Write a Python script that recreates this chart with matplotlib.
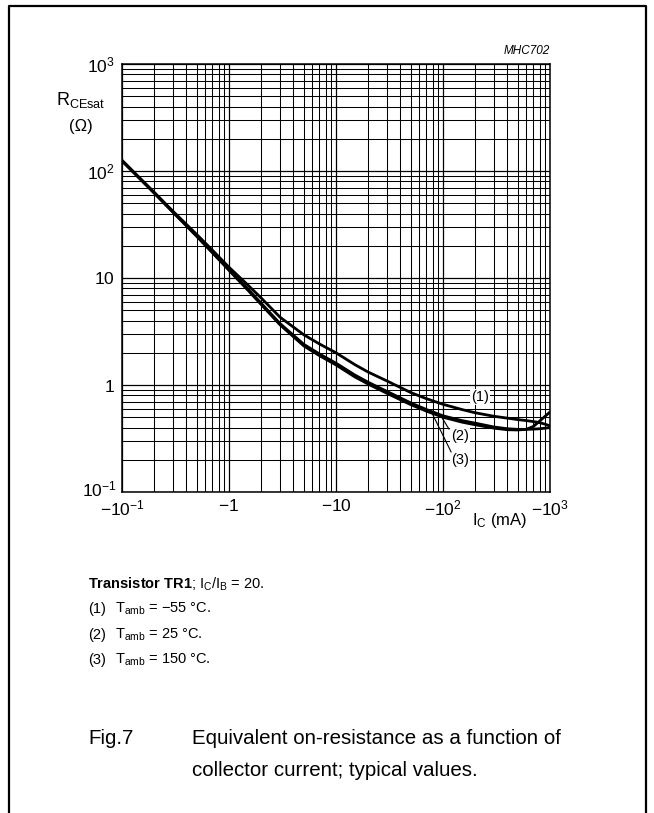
import numpy as np
import matplotlib
matplotlib.use("Agg")
import matplotlib.pyplot as plt
from matplotlib.lines import Line2D
from matplotlib.ticker import LogLocator, NullFormatter, FixedLocator

plt.rcParams['font.family'] = ['Liberation Sans', 'DejaVu Sans']
plt.rcParams['mathtext.fontset'] = 'custom'
plt.rcParams['mathtext.rm'] = 'Liberation Sans'
plt.rcParams['mathtext.it'] = 'Liberation Sans:italic'
plt.rcParams['mathtext.bf'] = 'Liberation Sans:bold'

# collector current magnitude (mA); axis shows negative values
ic_ma = [0.1, 0.2, 0.3, 0.5, 0.7, 1, 1.5, 2, 3, 5, 7, 10, 15, 20, 30, 50, 70,
         100, 150, 200, 300, 400, 500, 600, 700, 800, 900, 1000]
r_m55 = [125, 63, 42, 25.5, 18.2, 12.6, 8.6, 6.5, 4.3, 2.95, 2.42, 2.0, 1.55, 1.32,
         1.09, 0.85, 0.745, 0.66, 0.59, 0.55, 0.51, 0.49, 0.475, 0.465, 0.455,
         0.445, 0.43, 0.415]
r_25 = [124, 62, 41, 24.6, 17.4, 12.0, 7.9, 5.8, 3.75, 2.4, 1.95, 1.6, 1.24, 1.06,
        0.87, 0.68, 0.59, 0.515, 0.465, 0.44, 0.405, 0.39, 0.385, 0.385, 0.387,
        0.39, 0.395, 0.40]
r_150 = [126, 63, 41.5, 24.5, 17.2, 11.8, 7.7, 5.65, 3.65, 2.32, 1.88, 1.54, 1.19,
         1.02, 0.835, 0.655, 0.57, 0.50, 0.45, 0.425, 0.395, 0.382, 0.38, 0.385,
         0.41, 0.46, 0.51, 0.56]

x_ticks = [0.1, 1, 10, 100, 1000]
x_labels = ['$-10^{-1}$', '$-1$', '$-10$', '$-10^{2}$', '$-10^{3}$']
y_ticks = [0.1, 1, 10, 100, 1000]
y_labels = ['$10^{-1}$', '$1$', '$10$', '$10^{2}$', '$10^{3}$']

W, H = 654, 813
fig = plt.figure(figsize=(W / 100, H / 100), dpi=100)

# outer frame (open at bottom)
fx0, fx1, fy0 = 9 / W, 646 / W, 1 - 6 / H
fig.add_artist(Line2D([fx0, fx0, fx1, fx1], [0, fy0, fy0, 0],
                      transform=fig.transFigure, color='black', lw=1.6))

ax = fig.add_axes([122 / W, 1 - 492 / H, 428 / W, 428 / H])
ax.set_xscale('log')
ax.set_yscale('log')
ax.set_xlim(0.1, 1000)
ax.set_ylim(0.1, 1000)

ax.xaxis.set_major_locator(FixedLocator(x_ticks))
ax.yaxis.set_major_locator(FixedLocator(y_ticks))
ax.xaxis.set_minor_locator(LogLocator(base=10, subs=np.arange(2, 10)))
ax.yaxis.set_minor_locator(LogLocator(base=10, subs=np.arange(2, 10)))
ax.xaxis.set_minor_formatter(NullFormatter())
ax.yaxis.set_minor_formatter(NullFormatter())
ax.set_xticklabels(x_labels, fontsize=12.5)
# lowest y label drawn separately, nudged up slightly to clear the x label
ax.set_yticklabels([''] + y_labels[1:], fontsize=12.5)
ax.text(-0.012, 0.006, y_labels[0], transform=ax.transAxes, fontsize=12.5,
        ha='right', va='center')
ax.tick_params(axis='x', which='both', length=0, pad=4.5)
ax.tick_params(axis='y', which='both', length=0, pad=5)
ax.grid(True, which='major', color='black', lw=0.9)
ax.grid(True, which='minor', color='black', lw=0.75)
for s in ax.spines.values():
    s.set_linewidth(1.1)

for r in (r_m55, r_25, r_150):
    ax.plot(ic_ma, r, color='black', lw=2.0, solid_capstyle='butt', zorder=3)

bb = dict(boxstyle='square,pad=0.1', fc='white', ec='none')
ax.text(222, 0.773, '(1)', fontsize=10.5, ha='center', va='center', bbox=bb, zorder=4)
ax.text(144, 0.333, '(2)', fontsize=10.5, ha='center', va='center', bbox=bb, zorder=4)
ax.text(144, 0.199, '(3)', fontsize=10.5, ha='center', va='center', bbox=bb, zorder=4)
ax.plot([113.7, 95.7], [0.388, 0.513], color='black', lw=0.8, zorder=4)
ax.plot([119, 78.9], [0.237, 0.547], color='black', lw=0.8, zorder=4)

# axis titles
fig.text(81 / W, 1 - 100 / H, r'R$_{\mathregular{CEsat}}$', fontsize=13,
         ha='center', va='center')
fig.text(81 / W, 1 - 127 / H, '(Ω)', fontsize=12, ha='center', va='center')
fig.text(500 / W, 1 - 521 / H, r'I$_{\mathregular{C}}$ (mA)', fontsize=12,
         ha='center', va='center')
fig.text(550 / W, 1 - 51 / H, 'MHC702', fontsize=8.5, style='italic',
         ha='right', va='center')

# notes
fig.text(88 / W, 1 - 584 / H,
         r'$\mathbf{Transistor\ TR1}$; I$_{\mathregular{C}}$/I$_{\mathregular{B}}$ = 20.',
         fontsize=10.5, ha='left', va='center')
notes = [('(1)', r'T$_{\mathregular{amb}}$ = −55 °C.'),
         ('(2)', r'T$_{\mathregular{amb}}$ = 25 °C.'),
         ('(3)', r'T$_{\mathregular{amb}}$ = 150 °C.')]
for i, (n, t) in enumerate(notes):
    y = 1 - (609 + 25.5 * i) / H
    fig.text(88 / W, y, n, fontsize=10.5, ha='left', va='center')
    fig.text(115 / W, y, t, fontsize=10.5, ha='left', va='center')

fig.text(88 / W, 1 - 738 / H, 'Fig.7', fontsize=14.8, ha='left', va='center')
fig.text(192 / W, 1 - 738 / H, 'Equivalent on-resistance as a function of',
         fontsize=14.8, ha='left', va='center')
fig.text(192 / W, 1 - 770 / H, 'collector current; typical values.',
         fontsize=14.8, ha='left', va='center')

fig.savefig('out.png', dpi=100)
